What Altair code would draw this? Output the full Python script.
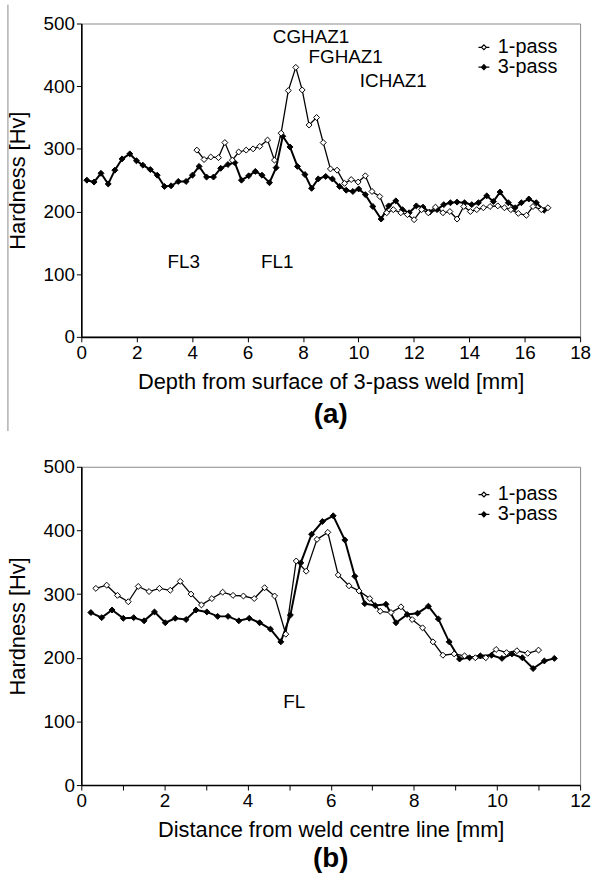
import altair as alt
import pandas as pd

FONT = "Liberation Sans"
SERIES = ["1-pass", "3-pass"]

# ---------- panel (a): depth from surface of 3-pass weld ----------
a_x_1 = [4.17, 4.43, 4.67, 4.95, 5.18, 5.45, 5.68, 5.95, 6.2, 6.44, 6.72, 6.97, 7.21, 7.47, 7.74,
         7.97, 8.22, 8.49, 8.73, 8.99, 9.23, 9.5, 9.74, 9.99, 10.25, 10.49, 10.77, 11.02, 11.26,
         11.53, 11.77, 12.01, 12.28, 12.52, 12.78, 13.05, 13.3, 13.56, 13.8, 14.04, 14.27, 14.51,
         14.75, 15.03, 15.27, 15.5, 15.77, 16.06, 16.3, 16.6, 16.84]
a_hv_1 = [298, 283, 287, 286, 310, 282, 295, 298, 300, 304, 314, 282, 325, 393, 430,
          394, 338, 350, 310, 268, 266, 245, 251, 247, 257, 232, 224, 198, 203,
          198, 195, 187, 203, 198, 207, 198, 200, 188, 208, 200, 203, 206,
          208, 209, 206, 203, 197, 194, 208, 203, 206]

a_x_3 = [0.2, 0.46, 0.71, 0.97, 1.21, 1.47, 1.75, 1.99, 2.22, 2.49, 2.74, 3.0, 3.24, 3.5, 3.78,
         4.01, 4.25, 4.52, 4.77, 5.03, 5.29, 5.54, 5.78, 6.04, 6.28, 6.52, 6.79, 7.03, 7.27, 7.53,
         7.8, 8.07, 8.31, 8.55, 8.82, 9.06, 9.32, 9.56, 9.8, 10.01, 10.25, 10.52, 10.82, 11.09,
         11.35, 11.59, 11.83, 12.09, 12.33, 12.57, 12.84, 13.08, 13.32, 13.56, 13.83, 14.09,
         14.33, 14.63, 14.87, 15.11, 15.41, 15.65, 15.88, 16.15, 16.42, 16.7]
a_hv_3 = [250, 247, 261, 244, 266, 284, 292, 281, 274, 267, 258, 240, 241, 248, 248,
          258, 272, 255, 255, 269, 275, 278, 250, 257, 264, 258, 246, 270, 320, 303,
          272, 259, 237, 252, 256, 252, 240, 234, 232, 236, 227, 208, 188, 209,
          217, 203, 198, 209, 207, 199, 203, 211, 214, 215, 214, 211,
          214, 225, 216, 231, 214, 206, 214, 220, 214, 202]

a_note_text = ["CGHAZ1", "FGHAZ1", "ICHAZ1", "FL3", "FL1"]
a_note_x = [8.29, 9.54, 11.26, 3.7, 7.07]
a_note_hv = [478, 446, 408, 120, 120]

# ---------- panel (b): distance from weld centre line ----------
b_x_1 = [0.35, 0.61, 0.87, 1.13, 1.37, 1.63, 1.88, 2.14, 2.38, 2.64, 2.89, 3.14, 3.4, 3.65, 3.9,
         4.16, 4.41, 4.65, 4.92, 5.17, 5.41, 5.67, 5.93, 6.18, 6.44, 6.68, 6.94, 7.19, 7.45, 7.69,
         7.96, 8.21, 8.46, 8.7, 8.97, 9.22, 9.48, 9.73, 9.98, 10.23, 10.48, 10.74, 11.0]
b_hv_1 = [309, 314, 298, 288, 312, 304, 309, 306, 320, 300, 283, 293, 303, 298, 297,
          293, 310, 297, 237, 352, 336, 386, 397, 330, 313, 305, 293, 273, 271, 280,
          260, 247, 225, 204, 206, 203, 200, 200, 213, 208, 211, 207, 212]

b_x_3 = [0.23, 0.49, 0.74, 1.01, 1.26, 1.51, 1.76, 2.02, 2.26, 2.52, 2.76, 3.02, 3.28, 3.53, 3.79,
         4.04, 4.29, 4.55, 4.8, 5.03, 5.28, 5.54, 5.8, 6.06, 6.34, 6.58, 6.82, 7.07, 7.33, 7.57,
         7.84, 8.09, 8.35, 8.59, 8.85, 9.1, 9.34, 9.6, 9.87, 10.12, 10.36, 10.61, 10.87, 11.14, 11.38]
b_hv_3 = [271, 263, 275, 262, 263, 258, 272, 255, 262, 260, 275, 272, 265, 265, 258,
          262, 255, 245, 225, 267, 349, 394, 414, 423, 385, 328, 285, 282, 284, 255,
          268, 270, 281, 261, 225, 198, 200, 203, 204, 199, 206, 200, 183, 195, 199]

b_note_text = ["FL"]
b_note_x = [5.12]
b_note_hv = [130]


def frame(x1, h1, x3, h3):
    d1 = pd.DataFrame({"x": x1, "hv": h1, "series": SERIES[0]})
    d3 = pd.DataFrame({"x": x3, "hv": h3, "series": SERIES[1]})
    return pd.concat([d3, d1], ignore_index=True)


LEGEND_PATH = "M-1,0H-0.45M0.45,0H1M0,-0.45L0.45,0L0,0.45L-0.45,0Z"


def panel(df, notes, xmax, xstep, xtitle, label, height, legend_y, row_pad, title_offset, left_rule):
    x_vals = [round(i * xstep, 3) for i in range(int(round(xmax / xstep)) + 1)]
    x_enc = alt.X(
        "x:Q",
        scale=alt.Scale(domain=[0, xmax], nice=False, zero=False),
        axis=alt.Axis(
            title=xtitle, values=x_vals, labelExpr="datum.value % 2 === 0 ? datum.label : ''",
            labelFlush=False, labelOverlap=False, labelPadding=2, titlePadding=9,
        ),
    )
    y_enc = alt.Y(
        "hv:Q",
        scale=alt.Scale(domain=[0, 500], nice=False),
        axis=alt.Axis(
            title="Hardness [Hv]", values=list(range(0, 501, 50)),
            labelExpr="datum.value % 100 === 0 ? datum.label : ''",
            labelOverlap=False, labelPadding=2, titlePadding=14,
        ),
    )
    base = alt.Chart(df)
    line3 = base.transform_filter(alt.datum.series == SERIES[1]).mark_line(
        color="black", strokeWidth=2.0
    ).encode(x=x_enc, y=y_enc)
    line1 = base.transform_filter(alt.datum.series == SERIES[0]).mark_line(
        color="black", strokeWidth=1.3
    ).encode(x=x_enc, y=y_enc)
    pts = base.mark_point(
        shape="diamond", filled=True, size=36, stroke="black", strokeWidth=1, opacity=1
    ).encode(
        x=x_enc, y=y_enc,
        fill=alt.Fill(
            "series:N",
            scale=alt.Scale(domain=SERIES, range=["white", "black"]),
            legend=alt.Legend(
                title=None, orient="none", legendX=396, legendY=legend_y, direction="vertical",
                symbolType=LEGEND_PATH, symbolSize=121, symbolStrokeColor="black",
                symbolStrokeWidth=1.2, symbolOpacity=1, labelFont=FONT, labelFontSize=20,
                labelColor="black", labelOffset=4, rowPadding=row_pad, padding=0,
            ),
        ),
        order=alt.Order("series:N", sort="descending"),
    )
    txt = alt.Chart(pd.DataFrame(notes)).mark_text(
        font=FONT, fontSize=19, color="black"
    ).encode(x=alt.X("x:Q"), y=alt.Y("hv:Q"), text="t:N")
    layers = [line3, line1, pts, txt]
    if left_rule:
        rule = alt.Chart(pd.DataFrame({"k": [0]})).mark_rule(color="#8a8a8a", strokeWidth=1).encode(
            x=alt.value(-74), y=alt.value(-19), y2=alt.value(411)
        )
        layers.append(rule)
    return alt.layer(*layers).properties(
        width=503, height=height,
        title=alt.TitleParams(label, orient="bottom", anchor="middle", frame="group",
                              font=FONT, fontSize=28, fontWeight="bold", color="black",
                              offset=title_offset),
    )


top = panel(
    frame(a_x_1, a_hv_1, a_x_3, a_hv_3),
    {"x": a_note_x, "hv": a_note_hv, "t": a_note_text},
    18, 2, "Depth from surface of 3-pass weld [mm]", "(a)", 316, 14, 0, -31, True,
)
bottom = panel(
    frame(b_x_1, b_hv_1, b_x_3, b_hv_3),
    {"x": b_note_x, "hv": b_note_hv, "t": b_note_text},
    12, 1, "Distance from weld centre line [mm]", "(b)", 321, 18, -4, 5, False,
)

chart = alt.vconcat(top, bottom, spacing=25).resolve_scale(fill="independent").resolve_legend(
    fill="independent"
).configure(
    padding={"left": 5, "top": 0, "right": 0, "bottom": 0},
    background="white",
).configure_view(
    stroke="#8a8a8a", strokeWidth=1
).configure_axis(
    domainColor="black", domainWidth=1.6, tickColor="black", tickWidth=1, tickSize=5,
    labelFont=FONT, labelFontSize=19, labelColor="black",
    titleFont=FONT, titleFontSize=22, titleFontWeight="normal", titleColor="black",
    grid=False,
)

chart.save("out.html", embed_options={"renderer": "svg", "actions": False})
